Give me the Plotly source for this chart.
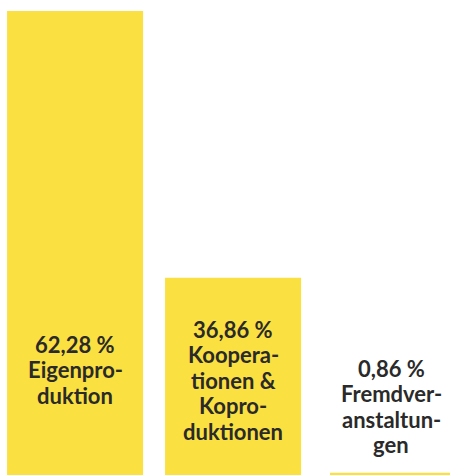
import plotly.graph_objects as go

categories = ["Eigenproduktion", "Kooperationen & Koproduktionen", "Fremdveranstaltungen"]
shares = [62.28, 36.86, 0.86]
# displayed bar heights (percent of tallest bar)
bar_heights = [100.0, 42.5, 0.5]
label_lines = [
    ["Eigenpro-", "duktion"],
    ["Koopera-", "tionen &", "Kopro-", "duktionen"],
    ["Fremdver-", "anstaltun-", "gen"],
]

W, H = 450, 475
YELLOW = "#FBE041"
TEXT = "#2A2A2A"
FONT = 22
LINE = 25.5

fig = go.Figure()
fig.add_trace(go.Bar(
    x=categories,
    y=bar_heights,
    marker=dict(color=YELLOW, line=dict(width=0)),
    offset=[-0.43, -0.43, -0.386],
    width=0.861,
    hoverinfo="skip",
))

first_line_px = [344, 329, 368]
for cat, val, lines, y0 in zip(categories, shares, label_lines, first_line_px):
    txt = f"{val:.2f}".replace(".", ",") + " %"
    for i, line in enumerate([txt] + lines):
        cy = y0 + i * LINE
        fig.add_annotation(
            x=cat, xref="x",
            y=1 - cy / H, yref="paper",
            yanchor="middle", xanchor="center",
            text=line,
            showarrow=False,
            font=dict(family="Lato", size=FONT, color=TEXT, weight="bold"),
        )

fig.update_layout(
    width=W, height=H,
    margin=dict(l=0, r=0, t=0, b=0),
    paper_bgcolor="white", plot_bgcolor="white",
    showlegend=False,
    xaxis=dict(type="category", range=[-75 / 158, (W - 75) / 158],
               visible=False, fixedrange=True),
    yaxis=dict(range=[0, 100 * 475 / 464], visible=False, fixedrange=True),
)

fig.write_html(
    "out.html",
    config={"displayModeBar": False},
    post_script=(
        "document.documentElement.style.overflow='hidden';"
        "document.body.style.overflow='hidden';"
        "document.body.style.margin='0';"
    ),
)
